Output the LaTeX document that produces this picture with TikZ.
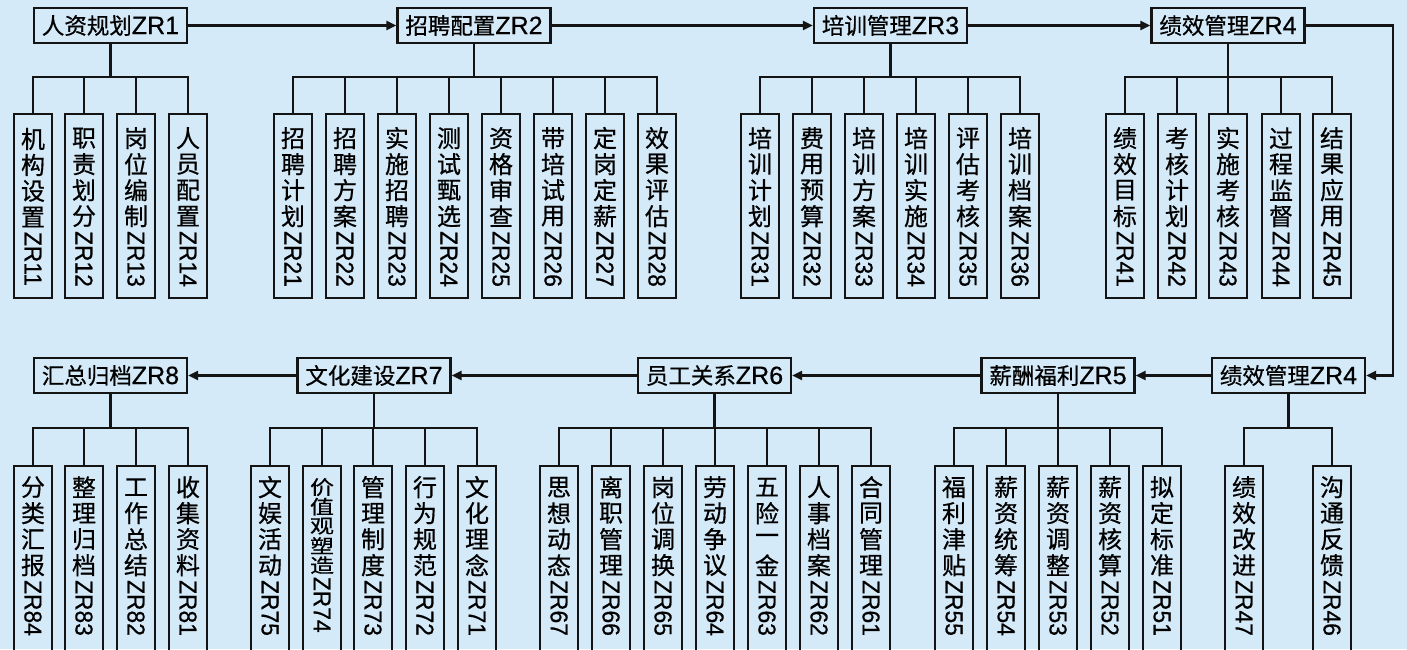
\documentclass[tikz,border=0pt]{standalone}
\usepackage{fontspec}
\usepackage{graphicx}
\usetikzlibrary{arrows.meta}
\newfontfamily\cjkf[FakeBold=0.6]{Noto Sans CJK SC}
\newfontfamily\lath[FakeBold=0.6]{Liberation Sans}
\newfontfamily\latv[FakeStretch=0.93,FakeBold=0.6]{Liberation Sans}
\definecolor{bgc}{RGB}{213,234,248}
\definecolor{inkc}{RGB}{20,20,20}
\newcommand\vlextra{0pt}
\newcommand\vlstep{26pt}
\newcommand\vlscale{1}
\newcommand\vlchars[1]{\ifx\relax#1\else\hbox to 30pt{\hss\vbox to \vlstep{\vss\hbox{\scalebox{1}[\vlscale]{#1}}\vss}\hss}\expandafter\vlchars\fi}
\newcommand\vlab[2]{\edef\vltmp{#1}\vbox{\offinterlineskip\expandafter\vlchars\vltmp\relax\kern2pt\hbox to 30pt{\hss\rotatebox{-90}{\latv\fontsize{24.5}{26}\selectfont #2}\hss}\kern\vlextra}}
\newcommand\hlab[2]{#1{\lath\fontsize{25}{26}\selectfont #2}}
\begin{document}
\begin{tikzpicture}[x=1pt,y=-1pt,
  lw/.style={draw=inkc,line width=2.2pt},
  hdr/.style={lw,rectangle,minimum width=153pt,minimum height=35pt,inner sep=0pt,font=\cjkf\fontsize{22.5}{26}\selectfont},
  kid/.style={lw,rectangle,minimum width=38pt,minimum height=184pt,inner sep=0pt,font=\cjkf\fontsize{24}{26}\selectfont},
  bkid/.style={kid,minimum height=196pt},
  arr/.style={lw,-{Triangle[length=10pt,width=9pt]}}]
\useasboundingbox (0,0) rectangle (1407,649);
\fill[bgc] (0,0) rectangle (1407,649);
\clip (0,0) rectangle (1407,649);
\coordinate (bt) at (0,77);
\coordinate (bb) at (0,428);
% top headers
\node[hdr] (h1) at (110.5,25.5) {\hlab{人资规划}{ZR1}};
\node[hdr] (h2) at (474,25.5) {\hlab{招聘配置}{ZR2}};
\node[hdr] (h3) at (890.5,25.5) {\hlab{培训管理}{ZR3}};
\node[hdr] (h4) at (1228,25.5) {\hlab{绩效管理}{ZR4}};
% bottom headers
\node[hdr] (h8) at (110.5,375.5) {\hlab{汇总归档}{ZR8}};
\node[hdr] (h7) at (374,375.5) {\hlab{文化建设}{ZR7}};
\node[hdr] (h6) at (714.5,375.5) {\hlab{员工关系}{ZR6}};
\node[hdr] (h5) at (1058,375.5) {\hlab{薪酬福利}{ZR5}};
\node[hdr] (h4b) at (1288.5,375.5) {\hlab{绩效管理}{ZR4}};
% flow arrows
\draw[arr] (h1.east) -- (h2.west);
\draw[arr] (h2.east) -- (h3.west);
\draw[arr] (h3.east) -- (h4.west);
\coordinate (rc) at (1393,25.5);
\draw[arr] (h4.east) -- (rc) |- (h4b.east);
\draw[arr] (h4b.west) -- (h5.east);
\draw[arr] (h5.west) -- (h6.east);
\draw[arr] (h6.west) -- (h7.east);
\draw[arr] (h7.west) -- (h8.east);
% top children
\foreach \x/\t/\z [count=\i] in {33/机构设置/ZR11,84/职责划分/ZR12,136/岗位编制/ZR13,188/人员配置/ZR14}{
  \node[kid] (a\i) at (\x,206) {\vlab{\t}{\z}};
  \draw[lw] (h1.south) -- (h1.south |- bt) -| (a\i.north);}
\foreach \x/\t/\z [count=\i] in {293/招聘计划/ZR21,345/招聘方案/ZR22,397/实施招聘/ZR23,449/测试甄选/ZR24,501/资格审查/ZR25,553/带培试用/ZR26,605/定岗定薪/ZR27,657/效果评估/ZR28}{
  \node[kid] (b\i) at (\x,206) {\vlab{\t}{\z}};
  \draw[lw] (h2.south) -- (h2.south |- bt) -| (b\i.north);}
\foreach \x/\t/\z [count=\i] in {760/培训计划/ZR31,812/费用预算/ZR32,864/培训方案/ZR33,916/培训实施/ZR34,968/评估考核/ZR35,1020/培训档案/ZR36}{
  \node[kid] (c\i) at (\x,206) {\vlab{\t}{\z}};
  \draw[lw] (h3.south) -- (h3.south |- bt) -| (c\i.north);}
\foreach \x/\t/\z [count=\i] in {1125/绩效目标/ZR41,1177/考核计划/ZR42,1228/实施考核/ZR43,1281/过程监督/ZR44,1332/结果应用/ZR45}{
  \node[kid] (d\i) at (\x,206) {\vlab{\t}{\z}};
  \draw[lw] (h4.south) -- (h4.south |- bt) -| (d\i.north);}
% bottom children
\renewcommand\vlextra{18pt}
\foreach \x/\t/\z [count=\i] in {33/分类汇报/ZR84,84/整理归档/ZR83,136/工作总结/ZR82,188/收集资料/ZR81}{
  \node[bkid] (e\i) at (\x,564) {\vlab{\t}{\z}};
  \draw[lw] (h8.south) -- (h8.south |- bb) -| (e\i.north);}
\foreach \x/\t/\z/\st/\sc [count=\i] in {270/文娱活动/ZR75/26pt/1,322/价值观塑造/ZR74/19.5pt/0.8,373/管理制度/ZR73/26pt/1,425/行为规范/ZR72/26pt/1,477/文化理念/ZR71/26pt/1}{
  \node[bkid] (f\i) at (\x,564) {\renewcommand\vlstep{\st}\renewcommand\vlscale{\sc}\vlab{\t}{\z}};
  \draw[lw] (h7.south) -- (h7.south |- bb) -| (f\i.north);}
\foreach \x/\t/\z [count=\i] in {559/思想动态/ZR67,611/离职管理/ZR66,663/岗位调换/ZR65,715/劳动争议/ZR64,767/五险一金/ZR63,819/人事档案/ZR62,871/合同管理/ZR61}{
  \node[bkid] (g\i) at (\x,564) {\vlab{\t}{\z}};
  \draw[lw] (h6.south) -- (h6.south |- bb) -| (g\i.north);}
\foreach \x/\t/\z [count=\i] in {954/福利津贴/ZR55,1006/薪资统筹/ZR54,1058/薪资调整/ZR53,1110/薪资核算/ZR52,1162/拟定标准/ZR51}{
  \node[bkid] (k\i) at (\x,564) {\vlab{\t}{\z}};
  \draw[lw] (h5.south) -- (h5.south |- bb) -| (k\i.north);}
\foreach \x/\t/\z [count=\i] in {1244/绩效改进/ZR47,1332/沟通反馈/ZR46}{
  \node[bkid] (m\i) at (\x,564) {\vlab{\t}{\z}};
  \draw[lw] (h4b.south) -- (h4b.south |- bb) -| (m\i.north);}
\end{tikzpicture}
\end{document}
